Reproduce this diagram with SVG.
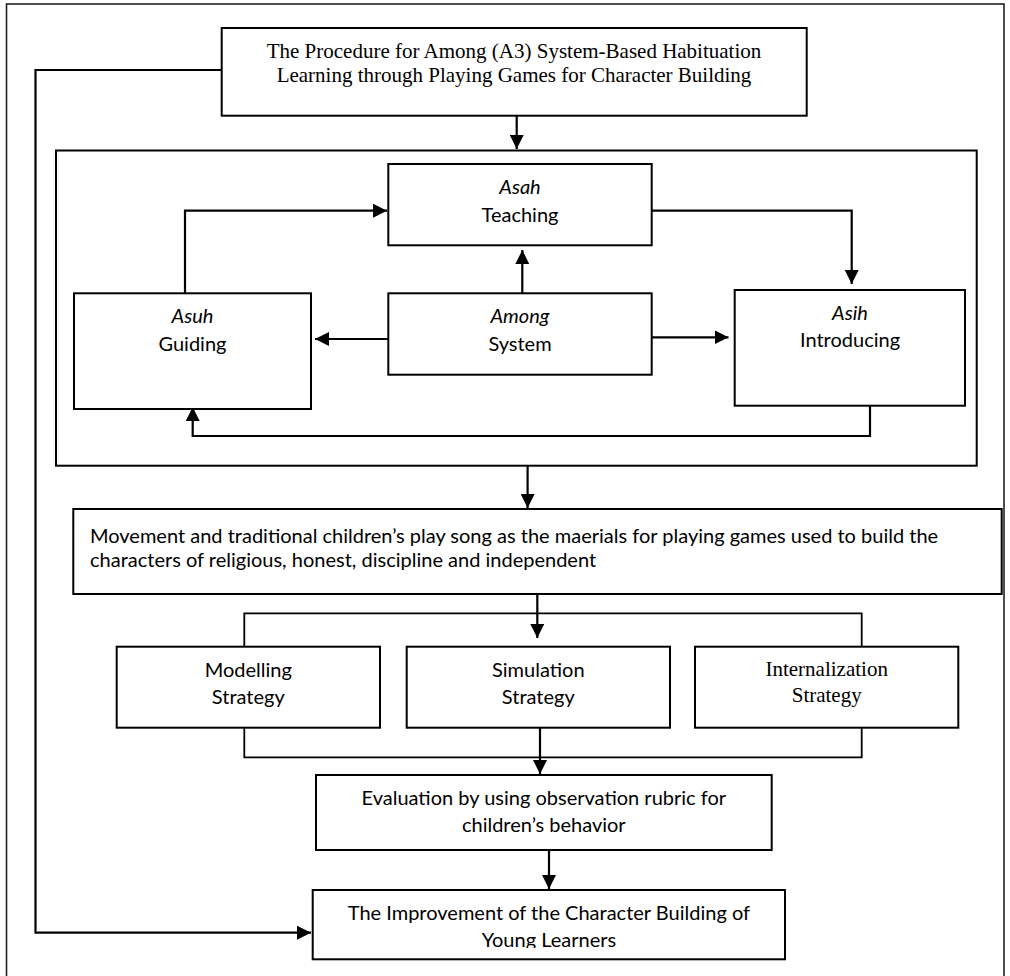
<svg xmlns="http://www.w3.org/2000/svg" width="1010" height="976" viewBox="0 0 1010 976">
<style>
.box{fill:#fff;stroke:#000;stroke-width:2}
.frame{fill:none;stroke:#222;stroke-width:1.6}
.ln{fill:none;stroke:#000;stroke-width:2.2}
.thin{fill:none;stroke:#000;stroke-width:1.8}
.ser{font-family:"Liberation Serif","Times New Roman",serif;font-size:21px;fill:#000;text-anchor:middle}
.san{font-family:Lato,"Noto Sans","Liberation Sans",sans-serif;font-size:20px;fill:#000;text-anchor:middle}
.it{font-style:italic}
</style>
<defs>
<marker id="ah" markerUnits="userSpaceOnUse" markerWidth="15" markerHeight="14" refX="14" refY="7" orient="auto">
<path d="M0,0 L14,7 L0,14 z" fill="#000"/>
</marker>
<clipPath id="clipImp"><rect x="313" y="890" width="472" height="58"/></clipPath>
</defs>
<rect class="frame" x="6.5" y="4" width="997.5" height="990"/>

<g id="connectors">
<path class="ln" d="M221.7,70 H35.5 V932.7 H311" marker-end="url(#ah)"/>
<path class="ln" d="M516.7,115.7 V149" marker-end="url(#ah)"/>
<path class="ln" d="M185,293.3 V210.7 H387" marker-end="url(#ah)"/>
<path class="ln" d="M651.7,210.7 H851.7 V284" marker-end="url(#ah)"/>
<path class="ln" d="M522.3,293.3 V250" marker-end="url(#ah)"/>
<path class="ln" d="M388.3,339 H315" marker-end="url(#ah)"/>
<path class="ln" d="M651.7,337.3 H728.5" marker-end="url(#ah)"/>
<path class="ln" d="M870,405.7 V436 H192.7 V407" marker-end="url(#ah)"/>
<path class="ln" d="M527.6,465.7 V508" marker-end="url(#ah)"/>
<path class="ln" d="M537.3,594 V638" marker-end="url(#ah)"/>
<path class="thin" d="M244.3,646.7 V613.3 H861.7 V646.7"/>
<path class="thin" d="M244.3,727.7 V757.3 H861.7 V727.7"/>
<path class="ln" d="M540,727.7 V774" marker-end="url(#ah)"/>
<path class="ln" d="M549,850 V889" marker-end="url(#ah)"/>
</g>

<g id="title">
<rect class="box" x="221.7" y="28" width="585" height="87.7"/>
<text class="ser" x="514" y="58.3">The Procedure for Among (A3) System-Based Habituation</text>
<text class="ser" x="514" y="81.7">Learning through Playing Games for Character Building</text>
</g>

<g id="among-group">
<rect class="box" x="56" y="150.5" width="920.7" height="315.2" style="fill:none"/>
</g>

<g id="asah">
<rect class="box" x="388.3" y="164" width="263.4" height="81.3"/>
<text class="san it" x="520" y="194">Asah</text>
<text class="san" x="520" y="221.5">Teaching</text>
</g>

<g id="asuh">
<rect class="box" x="74" y="293.3" width="237" height="115.7"/>
<text class="san it" x="192.5" y="323.3">Asuh</text>
<text class="san" x="192.5" y="350.7">Guiding</text>
</g>

<g id="among">
<rect class="box" x="388.3" y="293.3" width="263.4" height="81.4"/>
<text class="san it" x="520" y="323.3">Among</text>
<text class="san" x="520" y="350.7">System</text>
</g>

<g id="asih">
<rect class="box" x="734.7" y="290" width="230.3" height="115.7"/>
<text class="san it" x="850" y="320">Asih</text>
<text class="san" x="850" y="346.7">Introducing</text>
</g>

<g id="movement">
<rect class="box" x="73.3" y="509" width="928.4" height="85"/>
<text class="san" x="90" y="543" style="text-anchor:start">Movement and traditional children’s play song as the maerials for playing games used to build the</text>
<text class="san" x="90" y="567" style="text-anchor:start">characters of religious, honest, discipline and  independent</text>
</g>

<g id="modelling">
<rect class="box" x="116.7" y="646.7" width="263.3" height="81"/>
<text class="san" x="248.3" y="677.3">Modelling</text>
<text class="san" x="248.3" y="704">Strategy</text>
</g>

<g id="simulation">
<rect class="box" x="406.7" y="646.7" width="263.3" height="81"/>
<text class="san" x="538.3" y="677.3">Simulation</text>
<text class="san" x="538.3" y="704">Strategy</text>
</g>

<g id="internalization">
<rect class="box" x="695" y="646.7" width="263.3" height="81"/>
<text class="ser" x="826.7" y="676">Internalization</text>
<text class="ser" x="826.7" y="701.7">Strategy</text>
</g>

<g id="evaluation">
<rect class="box" x="316" y="775" width="455.7" height="75"/>
<text class="san" x="543.8" y="805">Evaluation by using observation rubric for</text>
<text class="san" x="543.8" y="831.7">children’s behavior</text>
</g>

<g id="improvement">
<rect class="box" x="312.7" y="890" width="472.3" height="69.3"/>
<g clip-path="url(#clipImp)">
<text class="san" x="548.9" y="920">The Improvement of the Character Building of</text>
<text class="san" x="548.9" y="946.5">Young Learners</text>
</g>
</g>
</svg>
